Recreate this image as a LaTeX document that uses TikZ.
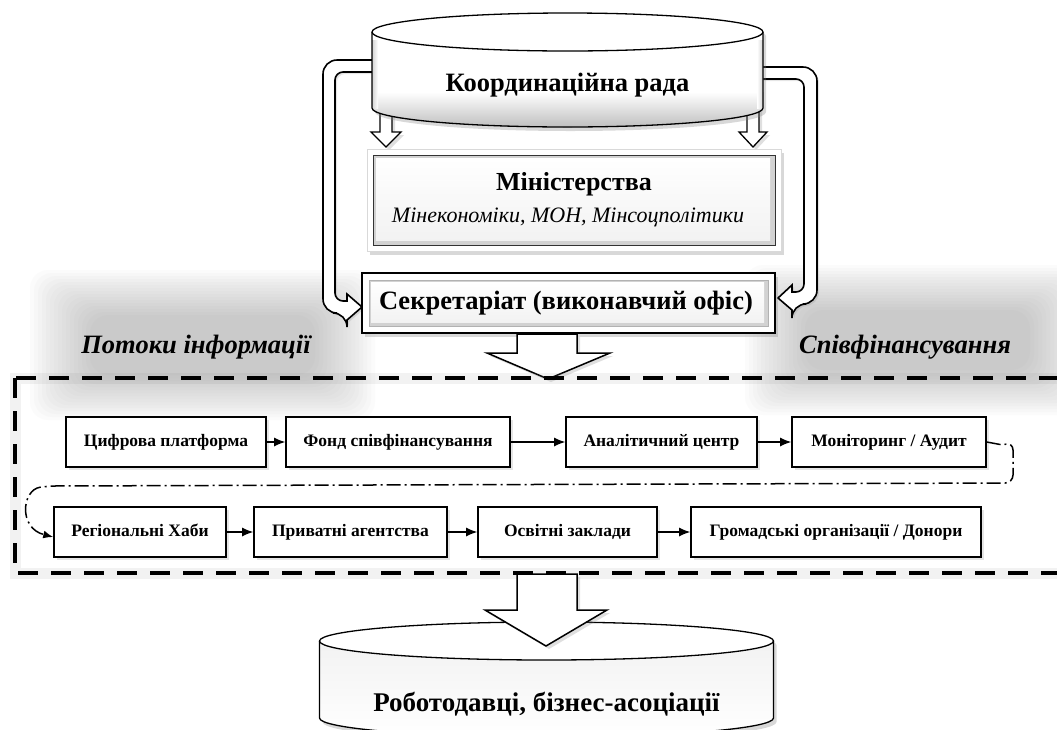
\documentclass[tikz,border=0pt]{standalone}
\usepackage{fontspec}
\setmainfont{Liberation Serif}
\usetikzlibrary{arrows.meta,shadows,calc}
\tikzset{
  boxnode/.style={draw, line width=1.6pt, fill=white, minimum height=50pt, inner sep=0pt,
    text height=12pt, text depth=3.5pt,
    font=\bfseries\fontsize{17.5}{21}\selectfont,
    drop shadow={opacity=0.2, shadow xshift=3pt, shadow yshift=-3pt}},
  flow/.style={line width=1.2pt, -{Latex[length=11pt,width=9pt]}},
  blockarrow/.style={draw, line width=1.5pt, fill=white,
    drop shadow={opacity=0.25, shadow xshift=3pt, shadow yshift=-3pt}},
  uarrow/.style={draw, line width=1.6pt, fill=white,
    drop shadow={opacity=0.2, shadow xshift=2pt, shadow yshift=-2pt}},
  dashdotline/.style={line width=1.5pt, dash pattern=on 14pt off 4pt on 2pt off 4pt},
  frameline/.style={line width=4pt, dash pattern=on 20pt off 13pt},
  bigtext/.style={font=\bfseries\fontsize{26.5}{31}\selectfont},
  labeltext/.style={font=\bfseries\itshape\fontsize{26.5}{31}\selectfont},
}
\newcommand\softregion[4]{%
  \foreach \i in {0,...,15}{%
    \fill[gray, opacity=0.027, rounded corners=18pt] (#1+\i*4, #2+\i*3) rectangle (#3-\i*4, #4-\i*3);}}
\begin{document}
\begin{tikzpicture}[x=1pt,y=-1pt]
\useasboundingbox (0,0) rectangle (1057,729);
\clip (0,0) rectangle (1057,729);
\fill[white] (0,0) rectangle (1057,729);

% soft gray regions
\softregion{30}{270}{375}{420}
\softregion{745}{265}{1090}{415}

% U-shaped hollow arrows
\path[uarrow] [rounded corners=14pt] (380,60) -- (323,60) -- (323,313) -- (347,313) [sharp corners] -- (347,320) -- (362,307) -- (347,294) -- (347,301) [rounded corners=8pt] -- (335,301) -- (335,72) -- (380,72) [sharp corners] -- cycle;
\path[uarrow] [rounded corners=14pt] (755,67) -- (817,67) -- (817,304) -- (792,304) [sharp corners] -- (792,310) -- (778,298) -- (792,285) -- (792,292) [rounded corners=8pt] -- (804,292) -- (804,79) -- (755,79) [sharp corners] -- cycle;

% small arrows under the top cylinder
\path[blockarrow, line width=1.3pt] (380,105) -- (392,105) -- (392,132) -- (401,132) -- (386,147) -- (371,132) -- (380,132) -- cycle;
\path[blockarrow, line width=1.3pt] (747,105) -- (759,105) -- (759,132) -- (767,132) -- (753,147) -- (739,132) -- (747,132) -- cycle;

% top cylinder
\path[fill=white, drop shadow={opacity=0.3, shadow xshift=3pt, shadow yshift=-4pt}]
  (372,32) -- (372,108) arc[start angle=180, end angle=0, x radius=195.5, y radius=19]
  -- (763,32) arc[start angle=0, end angle=-180, x radius=195.5, y radius=19] -- cycle;
\fill[top color=white, bottom color=gray!50]
  (372,92) -- (372,108) arc[start angle=180, end angle=0, x radius=195.5, y radius=19] -- (763,92) -- cycle;
\fill[left color=gray!35, right color=white] (372,40) rectangle (378,108);
\fill[left color=white, right color=gray!35] (757,40) rectangle (763,108);
\draw[line width=1.3pt] (372,32) -- (372,108) arc[start angle=180, end angle=0, x radius=195.5, y radius=19] -- (763,32);
\draw[line width=1.3pt, fill=white] (567.5,32) ellipse [x radius=195.5, y radius=19];
\node[bigtext] (c1) at (567.5,85) {Координаційна рада};

% Ministries box
\path[fill=white, draw=gray!30, line width=0.8pt, drop shadow={opacity=0.3, shadow xshift=3pt, shadow yshift=-4pt}] (367,149) rectangle (781,251);
\fill[gray!35] (373,155) rectangle (775,245);
\fill[top color=white, bottom color=gray!10] (376,158) rectangle (770,240);
\draw[gray!40!black, line width=1pt] (373,155) rectangle (775,245);
\node[font=\bfseries\fontsize{26}{30}\selectfont] (min) at (574,184) {Міністерства};
\node[font=\itshape\fontsize{22}{26}\selectfont] (minsub) at (568,217) {Мінекономіки, МОН, Мінсоцполітики};

% Secretariat box
\path[fill=white, drop shadow={opacity=0.3, shadow xshift=3pt, shadow yshift=-4pt}] (362,273) rectangle (775,333);
\fill[gray!35] (369,280) rectangle (768,326);
\fill[top color=white, bottom color=gray!10] (371,282) rectangle (764,322);
\draw[gray!60, line width=0.8pt] (369,280) rectangle (768,326);
\draw[line width=2.5pt] (362,273) rectangle (775,333);
\node[bigtext] (sec) at (566,303) {Секретаріат (виконавчий офіс)};

% big arrow 1
\path[blockarrow] (517,334) -- (577,334) -- (577,353) -- (610,353) -- (548,379) -- (487,353) -- (517,353) -- cycle;

% labels
\node[labeltext] (lblinfo) at (196,347) {Потоки інформації};
\node[labeltext] (lblfin) at (905,347) {Співфінансування};

% dashed frame with halo
\draw[gray, opacity=0.1, line width=11pt] (15,378) rectangle (1068,573);
\draw[frameline] (15,378) rectangle (1068,573);

% row 1
\node[boxnode, minimum width=200pt] (n1) at (166,442) {Цифрова платформа};
\node[boxnode, minimum width=224pt] (n2) at (398,442) {Фонд співфінансування};
\node[boxnode, minimum width=191pt] (n3) at (661.5,442) {Аналітичний центр};
\node[boxnode, minimum width=194pt] (n4) at (889,442) {Моніторинг / Аудит};
% row 2
\node[boxnode, minimum width=172pt] (m1) at (140,532) {Регіональні Хаби};
\node[boxnode, minimum width=193pt] (m2) at (350.5,532) {Приватні агентства};
\node[boxnode, minimum width=179pt] (m3) at (567.5,532) {Освітні заклади};
\node[boxnode, minimum width=290pt] (m4) at (836,532) {Громадські організації / Донори};

\draw[flow] (n1) -- (n2);
\draw[flow] (n2) -- (n3);
\draw[flow] (n3) -- (n4);
\draw[flow] (m1) -- (m2);
\draw[flow] (m2) -- (m3);
\draw[flow] (m3) -- (m4);

\coordinate (ddr) at (1013,483);
\coordinate (ddl) at (48,486);
\draw[dashdotline, -{Latex[length=10pt,width=8pt]}] (n4.east) -- ++(16,3) [rounded corners=8pt] -- (ddr |- n4.east) -- (ddr) -- (ddl) [sharp corners]
  .. controls (22,490) and (18,528) .. ([yshift=-5pt]m1.west);

% bottom cylinder
\path[fill=white, drop shadow={opacity=0.3, shadow xshift=3pt, shadow yshift=-4pt}]
  (319.5,641) -- (319.5,718) arc[start angle=180, end angle=0, x radius=227, y radius=19]
  -- (773.5,641) arc[start angle=0, end angle=-180, x radius=227, y radius=19] -- cycle;
\fill[top color=gray!10, bottom color=white]
  (319.5,641) -- (319.5,718) arc[start angle=180, end angle=0, x radius=227, y radius=19] -- (773.5,641) -- cycle;
\draw[line width=1.3pt] (319.5,641) -- (319.5,718) arc[start angle=180, end angle=0, x radius=227, y radius=19] -- (773.5,641);
\draw[line width=1.3pt, fill=white] (546.5,641) ellipse [x radius=227, y radius=19];
\node[font=\bfseries\fontsize{27}{32}\selectfont] (c2) at (546.5,704) {Роботодавці, бізнес-асоціації};

% big arrow 2
\path[blockarrow] (517,574) -- (577,574) -- (577,610) -- (607,610) -- (546,646) -- (485,610) -- (517,610) -- cycle;
\end{tikzpicture}
\end{document}
